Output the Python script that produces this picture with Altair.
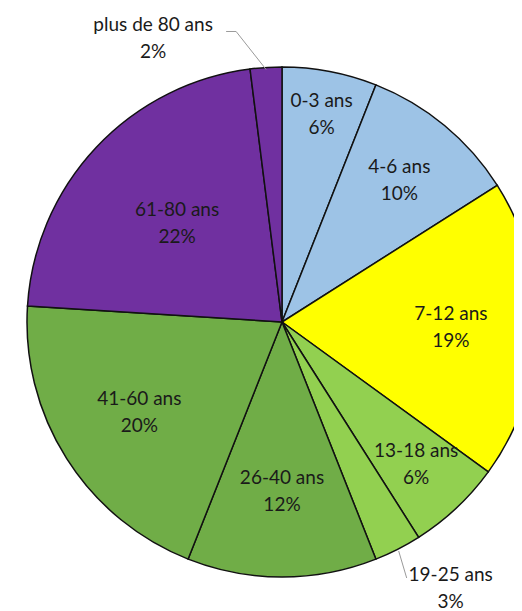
import math
import altair as alt
import pandas as pd

categories = ["0-3 ans", "4-6 ans", "7-12 ans", "13-18 ans", "19-25 ans",
              "26-40 ans", "41-60 ans", "61-80 ans", "plus de 80 ans"]
shares = [6, 10, 19, 6, 3, 12, 20, 22, 2]
colors = ["#9DC3E6", "#9DC3E6", "#FFFF00", "#92D050", "#92D050",
          "#70AD47", "#70AD47", "#7030A0", "#7030A0"]
outside = ["19-25 ans", "plus de 80 ans"]

# style: label distance from centre (px) for the inside labels
label_radius = {"0-3 ans": 211, "4-6 ans": 184, "7-12 ans": 169, "13-18 ans": 196,
                "26-40 ans": 169, "41-60 ans": 169, "61-80 ans": 144}

W, H = 506, 603
CX, CY, R = 274, 314, 255
FS, LH = 19, 27

df = pd.DataFrame({
    "cat": categories,
    "share": shares,
    "order": list(range(len(categories))),
})

pie = alt.Chart(df).mark_arc(radius=R, stroke="#111111", strokeWidth=1.5).encode(
    theta=alt.Theta("share:Q", stack=True),
    order=alt.Order("order:Q"),
    color=alt.Color("cat:N", scale=alt.Scale(domain=categories, range=colors), legend=None),
    x=alt.value(CX), y=alt.value(CY),
)

cum = 0
mids = {}
for c, v in zip(categories, shares):
    mids[c] = (cum + v / 2) / 100 * 2 * math.pi
    cum += v

def pt(ang, r):
    return CX + r * math.sin(ang), CY - r * math.cos(ang)

rows = []
for c, v in zip(categories, shares):
    if c in outside:
        continue
    x, y = pt(mids[c], label_radius[c])
    rows.append({"label": f"{c}\n{v}%", "x": x, "y": y})

a80 = mids["plus de 80 ans"]
x0, y0 = pt(a80, R - 2)
a19 = mids["19-25 ans"]
x1, y1 = pt(a19, R + 2)
rows.append({"label": "plus de 80 ans\n2%", "x": x0 - 113, "y": y0 - 31})
rows.append({"label": "19-25 ans\n3%", "x": x1 + 52, "y": y1 + 38})
labels = pd.DataFrame(rows)

xs = alt.Scale(domain=[0, W], range=[0, W])
ys = alt.Scale(domain=[0, H], range=[0, H])

lines = pd.DataFrame({
    "x": [x0, x0 - 30, x0 - 40, x1, x1 + 8],
    "y": [y0, y0 - 38, y0 - 38, y1, y1 + 27],
    "g": ["a", "a", "a", "b", "b"],
    "o": [0, 1, 2, 0, 1],
})
leader = alt.Chart(lines).mark_line(color="#9a9a9a", strokeWidth=1).encode(
    x=alt.X("x:Q", scale=xs, axis=None),
    y=alt.Y("y:Q", scale=ys, axis=None),
    detail="g:N", order="o:Q",
)

text = alt.Chart(labels).mark_text(font="Lato", fontSize=FS, lineBreak="\n",
                                   color="#1a1a1a", lineHeight=LH, dy=-LH / 2).encode(
    x=alt.X("x:Q", scale=xs, axis=None),
    y=alt.Y("y:Q", scale=ys, axis=None),
    text="label:N",
)

chart = alt.layer(pie, leader, text).properties(
    width=W, height=H, padding=0, autosize=alt.AutoSizeParams(type="none"),
    background="white",
).configure_view(stroke=None)

chart.save("out.html", embed_options={"renderer": "svg", "actions": False})
